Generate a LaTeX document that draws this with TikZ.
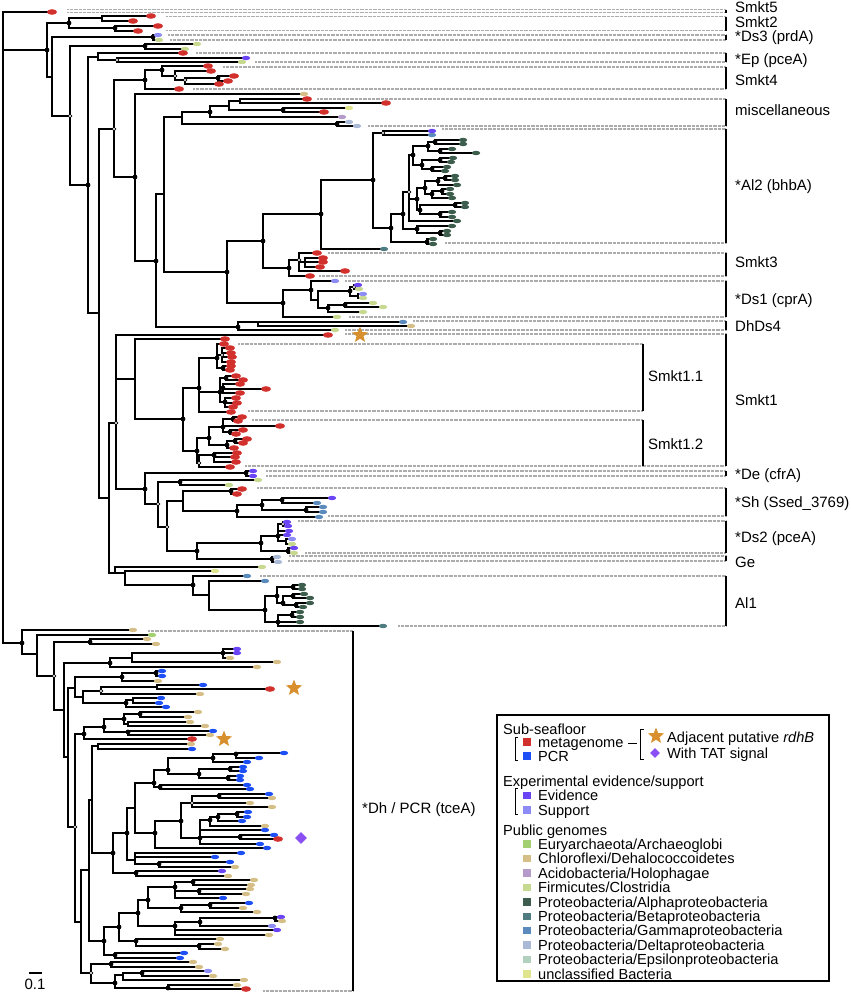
\documentclass[tikz,border=0pt]{standalone}
\usepackage{fontspec}
\setmainfont{Liberation Sans}
\usetikzlibrary{shapes.geometric}
\definecolor{mg}{HTML}{D2302C}
\definecolor{pcr}{HTML}{1C4FF5}
\definecolor{evi}{HTML}{6B45F5}
\definecolor{sup}{HTML}{8D8CF7}
\definecolor{eur}{HTML}{A2CF70}
\definecolor{chl}{HTML}{D6BF86}
\definecolor{aci}{HTML}{B59BC9}
\definecolor{fir}{HTML}{C6D98F}
\definecolor{alp}{HTML}{3D5E4C}
\definecolor{bet}{HTML}{4E7C80}
\definecolor{gam}{HTML}{5B8BBD}
\definecolor{del}{HTML}{A9B9D6}
\definecolor{eps}{HTML}{B3CFBE}
\definecolor{unc}{HTML}{DFE58D}
\definecolor{starc}{HTML}{D8902E}
\definecolor{tatc}{HTML}{8A4FF2}
\newcommand\fsz{\fontsize{15}{15}\selectfont}
\newcommand\lsz{\fontsize{14.6}{14.6}\selectfont}
\newcommand\fglist{}
\makeatletter
\newcommand\tV[3]{\draw[br] (#1,#2)--(#1,#3);}
\newcommand\tH[3]{\draw[br] (#1,#3)--(#2,#3);}
\newcommand\tL[4]{\draw[br] (#1,#3)--(#2-3,#3);\g@addto@macro\fglist{\fill[#4] (#2,#3) ellipse [x radius=4.2pt, y radius=2.2pt];}}
\newcommand\tM[3]{\draw[br] (#1,#3)--(#2-4,#3);\g@addto@macro\fglist{\fill[mg] (#2,#3) ellipse [x radius=5pt, y radius=2.8pt];}}
\newcommand\tB[2]{\g@addto@macro\fglist{\fill (#1,#2) circle (2.4pt);}}
\newcommand\tW[2]{\g@addto@macro\fglist{\draw[fill=white,line width=0.7pt] (#1,#2) circle (1.9pt);}}
\makeatother
\newcommand\tD[2]{\draw[dl] (#1,#2)--(726,#2);}
\newcommand\tDs[2]{\draw[dl] (#1,#2)--(643,#2);}
\begin{document}
\begin{tikzpicture}[x=1pt,y=-1pt,
  br/.style={line width=1.15pt,line cap=rect},
  dl/.style={line width=1.5pt,gray!65,dash pattern=on 0.8pt off 0.5pt},
  bar/.style={line width=2.6pt},
  lab/.style={anchor=west,inner sep=0pt,text height=10.8pt,text depth=0pt,font=\fsz},
  leg/.style={anchor=west,inner sep=0pt,text height=10.5pt,text depth=0pt,font=\lsz},
  starn/.style={star,star points=5,star point ratio=2.3,minimum size=17pt,inner sep=0pt,fill=starc},
  tatn/.style={diamond,fill=tatc,minimum size=12pt,inner sep=0pt},
  sq/.style={minimum size=7.5pt,inner sep=0pt}]
\useasboundingbox (0,0) rectangle (851,994);
% ===== dotted guides =====
\tD{67}{9.5}\tD{67}{12.5}
\tD{166}{16.5}\tD{166}{30.5}
\tD{168}{35}\tD{170}{40}
\tD{196}{53}\tD{255}{62}
\tD{223}{67}\tD{193}{89}
\tD{317}{99}\tD{368}{126}
\tD{442}{129}\tD{445}{243}
\tD{328}{253}\tD{319}{276}
\tD{345}{281}\tD{349}{317}
\tD{413}{321}\tD{345}{330}
\tD{345}{334}\tD{245}{466}
\tDs{238}{344}\tDs{248}{411}\tDs{252}{420}
\tD{266}{471}\tD{266}{476}
\tD{257}{488}\tD{328}{516}
\tD{298}{521}\tD{305}{553}
\tD{289}{556}\tD{288}{561}
\tD{260}{576}\tD{398}{626}
\draw[dl] (148,631)--(353,631);
\draw[dl] (263,991)--(353,991);
% ===== upper tree =====
\tV{3}{12}{643}
\tM{3}{52}{12}
\tH{3}{47}{50}\tB{47}{50}
\tV{47}{23}{77}
\tH{47}{69}{23}\tB{69}{23}\tV{69}{18}{28}
\tH{69}{102}{18}\tV{102}{16}{21}\tM{102}{151}{16}\tM{102}{133}{21}
\tH{69}{115}{28}\tB{115}{28}\tV{115}{26}{31}\tM{115}{158}{26}\tM{115}{138}{31}
\tH{47}{52}{77}\tV{52}{37}{116}
\tH{52}{153}{37}\tB{153}{37}\tV{153}{35}{40}\tL{153}{158}{35}{sup}\tL{153}{159}{40}{fir}
\tH{52}{70}{116}\tW{70}{116}\tV{70}{46}{185}
\tH{70}{145}{46}\tB{145}{46}\tV{145}{44}{49}\tL{145}{197}{44}{fir}\tL{145}{185}{49}{fir}
\tH{70}{88}{185}\tB{88}{185}\tV{88}{57}{313}
\tH{88}{98}{57}\tV{98}{53}{60}\tM{98}{183}{53}
\tH{98}{117}{60}\tW{117}{60}\tV{117}{58}{62}\tL{117}{246}{58}{evi}\tL{117}{242}{62}{fir}
\tH{88}{99}{313}\tV{99}{129}{498}
\tH{99}{114}{129}\tW{114}{129}\tV{114}{80}{177}
% Smkt4
\tH{114}{145}{80}\tB{145}{80}\tV{145}{70}{89}
\tH{145}{162}{70}\tB{162}{70}\tV{162}{66}{76}\tM{162}{208}{66}
\tH{162}{175}{76}\tW{175}{76}\tV{175}{71}{80}\tM{175}{211}{71}
\tH{175}{185}{80}\tW{185}{80}\tV{185}{78}{84}
\tH{185}{218}{78}\tB{218}{78}\tV{218}{76}{81}\tM{218}{234}{76}\tM{218}{228}{81}
\tM{185}{219}{84}
\tM{145}{179}{89}
\tH{114}{135}{177}\tB{135}{177}\tV{135}{94}{261}
\tL{135}{304}{94}{chl}
\tH{135}{156}{261}\tB{156}{261}\tV{156}{194}{327}
\tH{156}{164}{194}\tV{164}{117}{272}
% misc
\tH{164}{182}{117}\tV{182}{112}{124}
\tH{182}{210}{112}\tB{210}{112}\tV{210}{106}{117}
\tH{210}{229}{106}\tV{229}{101}{110}
\tH{229}{240}{101}\tV{240}{99}{103}\tM{240}{307}{99}\tM{240}{386}{103}
\tH{229}{283}{110}\tB{283}{110}\tV{283}{108}{112}\tL{283}{349}{108}{unc}\tM{283}{324}{112}
\tL{210}{342}{117}{aci}
\tH{182}{337}{124}\tB{337}{124}\tV{337}{122}{126}\tL{337}{349}{122}{del}\tL{337}{357}{126}{del}
% Al2
\tH{164}{227}{272}\tB{227}{272}\tV{227}{241}{303}
\tH{227}{263}{241}\tB{263}{241}\tV{263}{214}{268}
\tH{263}{321}{214}\tB{321}{214}\tV{321}{180}{249}
\tH{321}{373}{180}\tB{373}{180}\tV{373}{133}{228}
\tH{373}{383}{133}\tW{383}{133}\tV{383}{131}{135}\tL{383}{432}{131}{evi}\tL{383}{432}{135}{gam}
\tL{321}{384}{249}{bet}
\tH{373}{391}{228}\tB{391}{228}\tV{391}{214}{242}
\tH{391}{427}{242}\tB{427}{242}\tV{427}{239}{244}\tL{427}{433}{239}{alp}\tL{427}{433}{244}{alp}
\tH{391}{403}{214}\tB{403}{214}\tV{403}{192}{229}
\tH{403}{417}{229}\tB{417}{229}\tV{417}{226}{233}\tL{417}{452}{226}{alp}
\tH{417}{440}{233}\tB{440}{233}\tV{440}{231}{235}\tL{440}{447}{231}{alp}\tL{440}{447}{235}{alp}
\tH{403}{409}{192}\tW{409}{192}\tV{409}{155}{221}
\tL{409}{457}{221}{alp}
\tH{409}{413}{155}\tB{413}{155}\tV{413}{146}{165}
\tH{413}{428}{146}\tB{428}{146}\tV{428}{142}{151}
\tH{428}{435}{142}\tB{435}{142}\tV{435}{140}{144}\tL{435}{463}{140}{alp}\tL{435}{463}{144}{alp}
\tH{428}{440}{151}\tB{440}{151}\tV{440}{149}{153}\tL{440}{452}{149}{alp}\tL{440}{476}{153}{alp}
\tH{413}{422}{165}\tB{422}{165}\tV{422}{160}{169}
\tH{422}{440}{160}\tB{440}{160}\tV{440}{158}{162}\tL{440}{453}{158}{alp}\tL{440}{451}{162}{alp}
\tH{422}{432}{169}\tB{432}{169}\tV{432}{167}{171}\tL{432}{447}{167}{alp}\tL{432}{445}{171}{alp}
\tH{409}{417}{199}\tB{417}{199}\tV{417}{188}{210}
\tH{417}{425}{188}\tB{425}{188}\tV{425}{181}{194}
\tH{425}{438}{181}\tB{438}{181}\tV{438}{178}{185}
\tH{438}{445}{178}\tB{445}{178}\tV{445}{176}{180}\tL{445}{455}{176}{alp}\tL{445}{455}{180}{alp}
\tL{438}{457}{185}{alp}
\tH{425}{432}{194}\tB{432}{194}\tV{432}{191}{198}
\tH{432}{442}{191}\tB{442}{191}\tV{442}{189}{194}\tL{442}{450}{189}{alp}\tL{442}{450}{194}{alp}
\tL{432}{452}{198}{alp}
\tH{417}{420}{210}\tB{420}{210}\tV{420}{205}{214}
\tH{420}{455}{205}\tB{455}{205}\tV{455}{203}{207}\tL{455}{465}{203}{alp}\tL{455}{465}{207}{alp}
\tH{420}{440}{214}\tB{440}{214}\tV{440}{212}{217}\tL{440}{452}{212}{alp}\tL{440}{452}{217}{alp}
% Smkt3
\tH{263}{289}{268}\tB{289}{268}\tV{289}{260}{276}
\tH{289}{299}{260}\tW{299}{260}\tV{299}{253}{271}
\tM{299}{317}{253}
\tH{299}{305}{262}\tV{305}{258}{267}\tM{305}{323}{258}\tM{305}{323}{262}\tM{305}{320}{267}
\tM{299}{345}{271}
\tM{289}{310}{276}
% Ds1
\tH{227}{283}{303}\tB{283}{303}\tV{283}{290}{317}
\tH{283}{311}{290}\tB{311}{290}\tV{311}{281}{300}
\tL{311}{335}{281}{sup}
\tH{311}{318}{300}\tV{318}{291}{308}
\tH{318}{350}{291}\tB{350}{291}\tV{350}{287}{296}
\tH{350}{354}{287}\tW{354}{287}\tV{354}{285}{289}\tL{354}{358}{285}{evi}\tL{354}{359}{289}{fir}
\tH{350}{358}{296}\tV{358}{294}{298}\tL{358}{363}{294}{sup}\tL{358}{363}{298}{fir}
\tH{318}{328}{308}\tB{328}{308}\tV{328}{305}{312}
\tH{328}{345}{305}\tB{345}{305}\tV{345}{303}{307}\tL{345}{373}{303}{fir}\tL{345}{383}{307}{fir}
\tL{328}{363}{312}{fir}
\tL{283}{337}{317}{fir}
% DhDs4
\tH{156}{238}{327}\tB{238}{327}\tV{238}{322}{330}
\tH{238}{258}{322}\tV{258}{322}{326}\tL{258}{403}{322}{gam}\tL{258}{411}{326}{chl}
\tL{238}{335}{330}{fir}
% Smkt1
\tH{99}{109}{498}\tV{109}{423}{573}
\tH{109}{116}{423}\tW{116}{423}\tV{116}{335}{489}
\tM{116}{328}{335}
\tH{116}{135}{379}\tV{135}{339}{419}
\tM{135}{225}{339}
\tH{135}{183}{419}\tB{183}{419}\tV{183}{388}{451}
\tH{183}{199}{388}\tB{199}{388}\tV{199}{358}{412}
\tH{199}{217}{358}\tB{217}{358}\tV{217}{344}{368}
\tM{217}{224}{344}
\tH{217}{222}{355}\tW{222}{355}\tV{222}{348}{362}\tM{222}{230}{348}\tM{222}{231}{353}\tM{222}{232}{357}\tM{222}{231}{362}
\tH{217}{223}{368}\tB{223}{368}\tV{223}{366}{370}\tM{223}{231}{366}\tM{223}{230}{370}
\tH{199}{220}{392}\tB{220}{392}\tV{220}{378}{402}
\tH{220}{226}{378}\tB{226}{378}\tV{226}{376}{380}\tM{226}{236}{376}\tM{226}{243}{380}
\tH{220}{223}{388}\tB{223}{388}\tV{223}{384}{393}\tM{223}{240}{384}\tM{223}{266}{389}\tM{223}{240}{393}
\tH{220}{225}{402}\tB{225}{402}\tV{225}{398}{407}\tM{225}{236}{398}\tM{225}{237}{403}\tM{225}{233}{407}
\tM{199}{231}{412}
\tH{183}{197}{451}\tB{197}{451}\tV{197}{438}{463}
\tH{197}{209}{438}\tB{209}{438}\tV{209}{427}{445}
\tH{209}{223}{427}\tB{223}{427}\tV{223}{419}{432}
\tH{223}{233}{419}\tB{233}{419}\tV{233}{417}{421}\tM{233}{242}{417}\tM{233}{238}{421}
\tM{223}{280}{426}
\tH{223}{230}{432}\tB{230}{432}\tV{230}{430}{434}\tM{230}{243}{430}\tM{230}{236}{434}
\tH{209}{227}{445}\tB{227}{445}\tV{227}{441}{448}
\tH{227}{235}{441}\tB{235}{441}\tV{235}{439}{443}\tM{235}{247}{439}\tM{235}{243}{443}
\tM{227}{234}{448}
\tH{197}{199}{463}\tW{199}{463}\tV{199}{455}{467}
\tH{199}{214}{455}\tB{214}{455}\tV{214}{453}{462}\tM{214}{237}{453}\tM{214}{235}{457}\tM{214}{236}{462}
\tM{199}{230}{467}
% De, Sh, Ds2, Ge
\tH{116}{145}{489}\tB{145}{489}\tV{145}{473}{504}
\tH{145}{246}{473}\tB{246}{473}\tV{246}{471}{476}\tL{246}{253}{471}{evi}\tL{246}{253}{476}{evi}
\tH{145}{158}{504}\tW{158}{504}\tV{158}{482}{527}
\tH{158}{180}{482}\tB{180}{482}\tV{180}{480}{485}\tL{180}{258}{480}{fir}\tL{180}{229}{485}{fir}
\tH{158}{167}{527}\tW{167}{527}\tV{167}{501}{551}
\tH{167}{183}{501}\tV{183}{491}{511}
\tH{183}{231}{491}\tB{231}{491}\tV{231}{489}{494}\tM{231}{242}{489}\tM{231}{237}{494}
\tH{183}{237}{511}\tB{237}{511}\tV{237}{505}{517}
\tH{237}{262}{505}\tB{262}{505}\tV{262}{500}{510}
\tH{262}{282}{500}\tB{282}{500}\tV{282}{498}{503}\tL{282}{332}{498}{evi}\tL{282}{317}{503}{gam}
\tH{262}{306}{510}\tB{306}{510}\tV{306}{507}{512}\tL{306}{323}{507}{gam}\tL{306}{323}{512}{gam}
\tL{237}{319}{517}{gam}
\tH{167}{197}{551}\tB{197}{551}\tV{197}{543}{559}
\tH{197}{261}{543}\tB{261}{543}\tV{261}{536}{551}
\tH{261}{278}{536}\tB{278}{536}\tV{278}{524}{541}
\tH{278}{283}{524}\tW{283}{524}\tV{283}{522}{526}\tL{283}{287}{522}{evi}\tL{283}{288}{526}{evi}
\tL{278}{289}{531}{evi}\tL{278}{287}{535}{evi}
\tH{278}{286}{541}\tV{286}{539}{544}\tL{286}{292}{539}{sup}\tL{286}{292}{544}{fir}
\tH{261}{288}{551}\tB{288}{551}\tV{288}{548}{553}\tL{288}{294}{548}{evi}\tL{288}{294}{553}{fir}
\tH{197}{272}{559}\tB{272}{559}\tV{272}{557}{562}\tL{272}{277}{557}{del}\tL{272}{278}{562}{del}
% Al1
\tH{109}{125}{573}\tV{115}{567}{573}\tL{115}{262}{567}{fir}
\tV{125}{571}{585}\tL{125}{215}{571}{unc}
\tH{125}{193}{585}\tB{193}{585}\tV{193}{576}{595}
\tL{193}{247}{576}{gam}
\tH{193}{209}{595}\tV{209}{581}{610}
\tL{209}{265}{581}{gam}
\tH{209}{265}{610}\tB{265}{610}\tV{265}{596}{622}
\tH{265}{277}{596}\tB{277}{596}\tV{277}{587}{603}
\tH{277}{293}{587}\tB{293}{587}\tV{293}{585}{589}\tL{293}{302}{585}{alp}\tL{293}{302}{589}{alp}
\tH{277}{283}{603}\tB{283}{603}\tV{283}{596}{605}
\tH{283}{293}{596}\tB{293}{596}\tV{293}{594}{598}\tL{293}{304}{594}{alp}\tL{293}{310}{598}{alp}
\tH{283}{296}{605}\tB{296}{605}\tV{296}{603}{607}\tL{296}{310}{603}{alp}\tL{296}{303}{607}{alp}
\tH{265}{278}{622}\tB{278}{622}\tV{278}{615}{626}
\tH{278}{292}{615}\tB{292}{615}\tV{292}{612}{617}\tL{292}{300}{612}{alp}\tL{292}{300}{617}{alp}
\tL{278}{300}{622}{alp}
\tL{278}{383}{626}{bet}
% ===== Dh clade =====
\tH{3}{22}{643}\tB{22}{643}\tV{22}{630}{654}
\tL{22}{133}{630}{chl}
\tH{22}{37}{654}\tV{37}{635}{676}
\tL{37}{152}{635}{eur}
\tH{37}{54}{676}\tW{54}{676}\tV{54}{642}{710}
\tH{54}{90}{642}\tB{90}{642}\tV{90}{639}{644}\tL{90}{147}{639}{chl}\tL{90}{156}{644}{chl}
\tH{54}{64}{710}\tV{64}{663}{757}
\tH{64}{110}{663}\tB{110}{663}\tV{110}{658}{667}
\tH{110}{132}{658}\tV{132}{653}{662}
\tH{132}{223}{653}\tB{223}{653}\tV{223}{649}{658}\tL{223}{237}{649}{evi}\tL{223}{237}{653}{evi}\tL{223}{230}{658}{chl}
\tL{132}{277}{662}{chl}
\tL{110}{257}{667}{chl}
\tH{64}{68}{757}\tV{68}{688}{827}
\tH{68}{75}{688}\tV{75}{677}{697}
\tH{75}{122}{677}\tB{122}{677}\tV{122}{673}{681}
\tH{122}{156}{673}\tB{156}{673}\tV{156}{671}{676}\tL{156}{162}{671}{pcr}\tL{156}{162}{676}{pcr}
\tL{122}{158}{681}{chl}
\tH{75}{83}{697}\tV{83}{691}{703}
\tH{83}{101}{691}\tW{101}{691}\tV{101}{687}{694}
\tH{101}{157}{687}\tV{157}{685}{689}\tL{157}{203}{685}{pcr}\tM{157}{270}{689}
\tL{101}{200}{694}{chl}
\tH{83}{126}{703}\tB{126}{703}\tV{126}{700}{707}
\tH{126}{133}{700}\tV{133}{698}{703}\tL{133}{161}{698}{pcr}\tL{133}{159}{703}{pcr}
\tL{126}{166}{707}{pcr}
\tH{68}{75}{827}\tW{75}{827}\tV{75}{734}{922}
\tH{75}{84}{734}\tB{84}{734}\tV{84}{727}{739}
\tH{84}{104}{727}\tB{104}{727}\tV{104}{719}{732}
\tH{104}{124}{719}\tB{124}{719}\tV{124}{714}{724}
\tH{124}{140}{714}\tB{140}{714}\tV{140}{712}{717}\tL{140}{198}{712}{chl}\tL{140}{188}{717}{chl}
\tH{124}{128}{724}\tV{128}{722}{726}\tL{128}{190}{722}{chl}\tL{128}{205}{726}{chl}
\tH{104}{128}{732}\tB{128}{732}\tV{128}{731}{735}\tL{128}{213}{731}{pcr}\tL{128}{210}{735}{chl}
\tM{84}{192}{739}
\tH{75}{81}{922}\tV{81}{870}{973}
\tH{81}{89}{870}\tV{89}{800}{941}
\tH{89}{92}{800}\tV{92}{746}{853}
\tH{92}{98}{746}\tV{98}{744}{749}\tL{98}{191}{744}{chl}\tL{98}{192}{749}{pcr}
\tH{92}{113}{853}\tB{113}{853}\tV{113}{833}{873}
\tH{113}{127}{833}\tB{127}{833}\tV{127}{808}{860}
\tH{127}{135}{808}\tV{135}{783}{833}
\tH{135}{154}{783}\tB{154}{783}\tV{154}{770}{787}
\tH{154}{168}{770}\tB{168}{770}\tV{168}{758}{774}
\tH{168}{213}{758}\tB{213}{758}\tV{213}{754}{762}
\tH{213}{236}{754}\tB{236}{754}\tV{236}{753}{758}\tL{236}{284}{753}{pcr}\tL{236}{259}{758}{pcr}
\tL{213}{247}{762}{pcr}
\tH{168}{199}{774}\tB{199}{774}\tV{199}{769}{778}
\tH{199}{230}{769}\tB{230}{769}\tV{230}{767}{771}\tL{230}{243}{767}{pcr}\tL{230}{243}{771}{pcr}
\tH{199}{228}{778}\tB{228}{778}\tV{228}{776}{780}\tL{228}{240}{776}{pcr}\tL{228}{240}{780}{pcr}
\tH{154}{160}{787}\tB{160}{787}\tV{160}{785}{789}\tL{160}{247}{785}{pcr}\tL{160}{250}{789}{pcr}
\tH{135}{155}{833}\tB{155}{833}\tV{155}{821}{848}
\tH{155}{181}{821}\tB{181}{821}\tV{181}{803}{838}
\tH{181}{192}{803}\tW{192}{803}\tV{192}{796}{807}
\tH{192}{219}{796}\tB{219}{796}\tV{219}{794}{798}\tL{219}{269}{794}{pcr}\tL{219}{272}{798}{chl}
\tL{192}{250}{803}{chl}\tL{192}{272}{807}{chl}
\tH{181}{200}{838}\tB{200}{838}\tV{200}{820}{844}
\tH{200}{210}{820}\tB{210}{820}\tV{210}{817}{826}
\tH{210}{218}{817}\tB{218}{817}\tV{218}{814}{821}
\tH{218}{237}{814}\tB{237}{814}\tV{237}{812}{817}\tL{237}{248}{812}{pcr}\tL{237}{247}{817}{pcr}
\tL{218}{242}{821}{pcr}
\tL{210}{265}{826}{chl}
\tL{200}{265}{830}{pcr}
\tH{200}{240}{837}\tB{240}{837}\tV{240}{835}{839}\tL{240}{274}{835}{pcr}\tM{240}{278}{839}
\tL{200}{260}{844}{pcr}
\tL{155}{267}{848}{pcr}
\tH{127}{135}{860}\tV{135}{853}{864}
\tL{135}{241}{853}{pcr}\tL{135}{215}{857}{pcr}
\tH{135}{159}{864}\tB{159}{864}\tV{159}{862}{867}\tL{159}{230}{862}{pcr}\tL{159}{235}{867}{chl}
\tH{113}{136}{873}\tB{136}{873}\tV{136}{871}{876}\tL{136}{222}{871}{evi}\tL{136}{228}{876}{chl}
\tH{89}{104}{941}\tB{104}{941}\tV{104}{927}{955}
\tH{104}{119}{927}\tB{119}{927}\tV{119}{913}{941}
\tH{119}{138}{913}\tB{138}{913}\tV{138}{900}{926}
\tH{138}{148}{900}\tB{148}{900}\tV{148}{887}{908}
\tH{148}{175}{887}\tB{175}{887}\tV{175}{882}{898}
\tH{175}{193}{882}\tB{193}{882}\tV{193}{880}{885}\tL{193}{254}{880}{chl}\tL{193}{251}{885}{chl}
\tH{175}{199}{891}\tB{199}{891}\tV{199}{889}{894}\tL{199}{250}{889}{chl}\tL{199}{246}{894}{chl}
\tL{175}{223}{898}{pcr}
\tH{148}{181}{908}\tB{181}{908}\tV{181}{905}{912}
\tH{181}{210}{905}\tB{210}{905}\tV{210}{903}{908}\tL{210}{249}{903}{pcr}\tL{210}{243}{908}{chl}
\tL{181}{257}{912}{chl}
\tH{138}{175}{926}\tB{175}{926}\tV{175}{922}{935}
\tH{175}{200}{922}\tB{200}{922}\tV{200}{918}{926}
\tH{200}{275}{918}\tB{275}{918}\tV{275}{917}{921}\tL{275}{281}{917}{evi}\tL{275}{282}{921}{chl}
\tL{200}{272}{926}{sup}
\tL{175}{277}{930}{evi}\tL{175}{269}{935}{chl}
\tH{119}{136}{941}\tB{136}{941}\tV{136}{939}{946}
\tL{136}{220}{939}{chl}
\tH{136}{199}{946}\tB{199}{946}\tV{199}{944}{949}\tL{199}{218}{944}{chl}\tL{199}{225}{949}{chl}
\tH{104}{115}{955}\tB{115}{955}\tV{115}{953}{958}\tL{115}{184}{953}{pcr}\tL{115}{180}{958}{pcr}
\tH{81}{91}{973}\tW{91}{973}\tV{91}{964}{983}
\tH{91}{111}{964}\tB{111}{964}\tV{111}{962}{967}\tL{111}{193}{962}{chl}\tL{111}{199}{967}{chl}
\tH{91}{115}{983}\tB{115}{983}\tV{115}{975}{988}
\tH{115}{123}{975}\tV{123}{973}{980}
\tH{123}{142}{973}\tB{142}{973}\tV{142}{971}{976}\tL{142}{208}{971}{sup}\tL{142}{213}{976}{chl}
\tL{123}{244}{980}{chl}
\tH{115}{168}{988}\tB{168}{988}\tV{168}{985}{989}\tL{168}{237}{985}{chl}\tM{168}{246}{989}
% foreground: leaves and node dots
\fglist
% ===== bars =====
\draw[bar] (726,9.5)--(726,12.5);
\draw[bar] (726,16.5)--(726,30.5);
\draw[bar] (726,35)--(726,40);
\draw[bar] (726,53)--(726,62);
\draw[bar] (726,67)--(726,89);
\draw[bar] (726,99)--(726,126);
\draw[bar] (726,129)--(726,243);
\draw[bar] (726,253)--(726,276);
\draw[bar] (726,281)--(726,317);
\draw[bar] (726,321)--(726,330);
\draw[bar] (726,334)--(726,466);
\draw[bar] (643,344)--(643,411);
\draw[bar] (643,420)--(643,466);
\draw[bar] (726,471)--(726,476);
\draw[bar] (726,488)--(726,516);
\draw[bar] (726,521)--(726,553);
\draw[bar] (726,556)--(726,561);
\draw[bar] (726,576)--(726,626);
\draw[bar] (353,631)--(353,991);
% ===== clade labels =====
\node[lab] (c1) at (735,7.5) {Smkt5};
\node[lab] (c2) at (735,22) {Smkt2};
\node[lab] (c3) at (735,36) {*Ds3 (prdA)};
\node[lab] (c4) at (735,59) {*Ep (pceA)};
\node[lab] (c5) at (735,80) {Smkt4};
\node[lab] (c6) at (735,110) {miscellaneous};
\node[lab] (c7) at (735,185) {*Al2 (bhbA)};
\node[lab] (c8) at (735,262) {Smkt3};
\node[lab] (c9) at (735,299) {*Ds1 (cprA)};
\node[lab] (c10) at (735,326) {DhDs4};
\node[lab] (c11) at (735,400) {Smkt1};
\node[lab] (c12) at (648,376) {Smkt1.1};
\node[lab] (c13) at (648,444) {Smkt1.2};
\node[lab] (c14) at (735,474) {*De (cfrA)};
\node[lab] (c15) at (735,502) {*Sh (Ssed\_3769)};
\node[lab] (c16) at (735,537) {*Ds2 (pceA)};
\node[lab] (c17) at (735,562) {Ge};
\node[lab] (c18) at (735,603) {Al1};
\node[lab] (c19) at (362,808) {*Dh / PCR (tceA)};
% stars and diamond in tree
\node[starn] (st1) at (360,335) {};
\node[starn] (st2) at (294,688) {};
\node[starn] (st3) at (224,739) {};
\node[tatn] (dm1) at (301,838) {};
% scale bar
\draw[line width=1.1pt] (29,973)--(42,973);
\node[lab,anchor=center] (sc) at (35,984) {0.1};
% ===== legend =====
\draw[line width=1.1pt] (497,715) rectangle (829,981);
\node[leg] (g1) at (503,729) {Sub-seafloor};
\draw[line width=1pt] (518,737)--(515,737)--(515,760)--(518,760);
\node[sq,fill=mg] (q1) at (527,742) {};
\node[sq,fill=pcr] (q2) at (527,756) {};
\node[leg] (g2) at (538,742) {metagenome};
\node[leg] (g3) at (538,756) {PCR};
\draw[line width=1pt] (628,743)--(637,743);
\draw[line width=1pt] (644,729)--(640,729)--(640,759)--(644,759);
\node[starn] (st4) at (656,736) {};
\node[tatn,minimum size=10pt] (dm2) at (655,753) {};
\node[leg] (g4) at (667,737) {Adjacent putative \textit{rdhB}};
\node[leg] (g5) at (667,753) {With TAT signal};
\node[leg] (g6) at (503,781) {Experimental evidence/support};
\draw[line width=1pt] (518,788)--(515,788)--(515,814)--(518,814);
\node[sq,fill=evi] (q3) at (527,795.5) {};
\node[sq,fill=sup] (q4) at (527,810) {};
\node[leg] (g7) at (538,795.5) {Evidence};
\node[leg] (g8) at (538,810) {Support};
\node[leg] (g9) at (503,830) {Public genomes};
\foreach \c/\t [count=\i from 0] in {eur/Euryarchaeota\slash Archaeoglobi,chl/Chloroflexi\slash Dehalococcoidetes,aci/Acidobacteria\slash Holophagae,fir/Firmicutes\slash Clostridia,alp/Proteobacteria\slash Alphaproteobacteria,bet/Proteobacteria\slash Betaproteobacteria,gam/Proteobacteria\slash Gammaproteobacteria,del/Proteobacteria\slash Deltaproteobacteria,eps/Proteobacteria\slash Epsilonproteobacteria,unc/unclassified Bacteria}{
  \node[sq,fill=\c] (pq\i) at (527,844+14.45*\i) {};
  \node[leg] (pt\i) at (538,844+14.45*\i) {\t};
}
\end{tikzpicture}
\end{document}
